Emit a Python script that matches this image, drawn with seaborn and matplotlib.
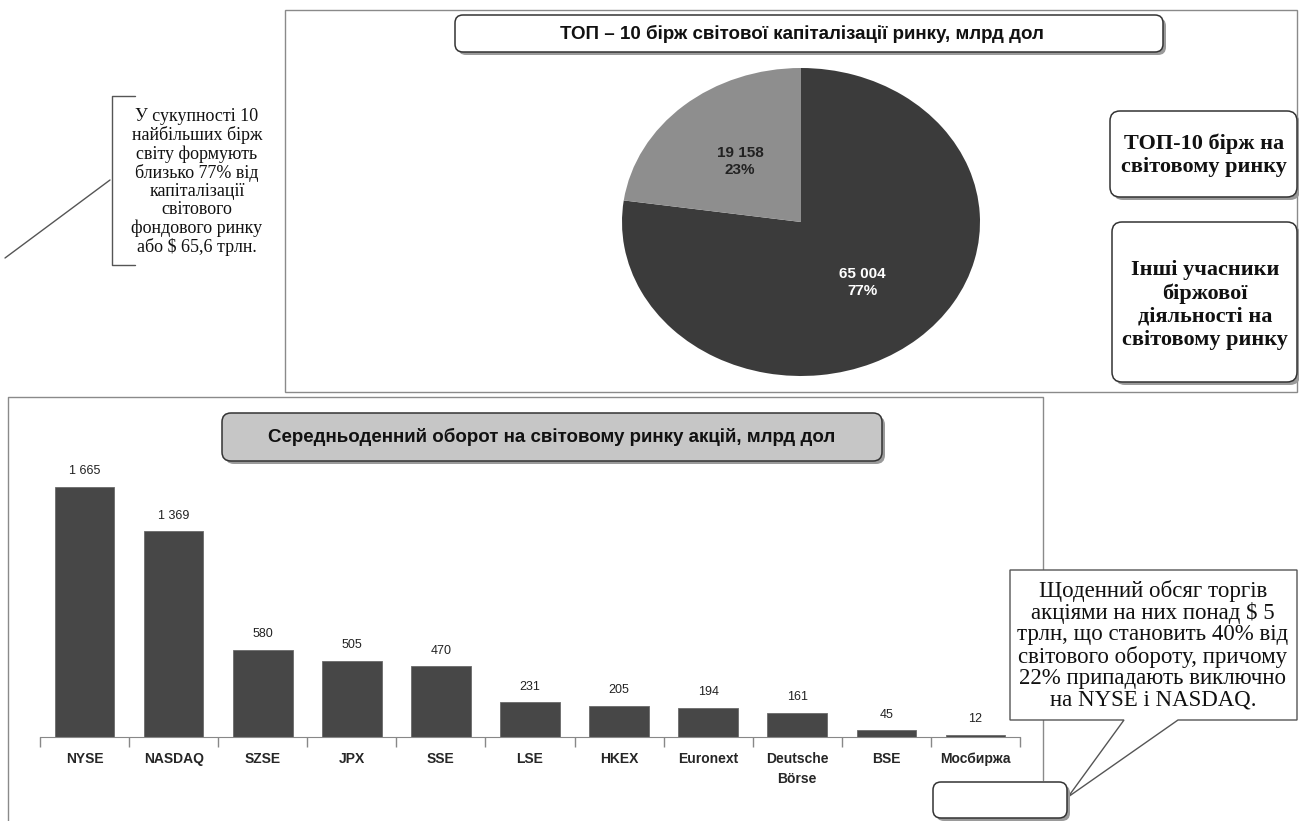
import matplotlib
matplotlib.use("Agg")
import matplotlib.pyplot as plt
import seaborn as sns
import pandas as pd
from matplotlib.patches import FancyBboxPatch, Rectangle, Polygon

# ----------------------------------------------------------------------
# Data
# ----------------------------------------------------------------------
pie_values = [65004, 19158]
pie_pcts = ["77%", "23%"]
pie_colors = ["#3b3b3b", "#8e8e8e"]

exchanges = ["NYSE", "NASDAQ", "SZSE", "JPX", "SSE", "LSE", "HKEX",
             "Euronext", "Deutsche\nBörse", "BSE", "Мосбиржа"]
turnover = [1665, 1369, 580, 505, 470, 231, 205, 194, 161, 45, 12]

pie_title = "ТОП – 10 бірж світової капіталізації ринку, млрд дол"
bar_title = "Середньоденний оборот на світовому ринку акцій, млрд дол"
legend_top = "ТОП-10 бірж на\nсвітовому ринку"
legend_other = "Інші учасники\nбіржової\nдіяльності на\nсвітовому ринку"
note_left = ("У сукупності 10\nнайбільших бірж\nсвіту формують\nблизько 77% від\n"
             "капіталізації\nсвітового\nфондового ринку\nабо $ 65,6 трлн.")
note_right = ("Щоденний обсяг торгів\nакціями на них понад $ 5\nтрлн, що становить 40% від\n"
              "світового обороту, причому\n22% припадають виключно\nна NYSE і NASDAQ.")

W, H = 1299, 821
SANS = ["Liberation Sans", "DejaVu Sans"]
SERIF = ["Liberation Serif", "DejaVu Serif"]

sns.set_style("white")
plt.rcParams["font.family"] = SANS

fig = plt.figure(figsize=(W / 100, H / 100), dpi=100)
fig.patch.set_facecolor("white")


def px_axes(x0, y0, x1, y1):
    """Axes placed by pixel box (y measured from the top)."""
    return fig.add_axes([x0 / W, 1 - y1 / H, (x1 - x0) / W, (y1 - y0) / H])


# ----------------------------------------------------------------------
# Pie chart
# ----------------------------------------------------------------------
ax_pie = px_axes(622, 68, 980, 376)
pie_labels = [f"{v:,}".replace(",", " ") + "\n" + p for v, p in zip(pie_values, pie_pcts)]
wedges, texts = ax_pie.pie(pie_values, colors=pie_colors, startangle=90,
                           counterclock=False, labels=pie_labels, labeldistance=0.52,
                           wedgeprops=dict(linewidth=0))
for t, c in zip(texts, ["white", "#222222"]):
    t.set_ha("center")
    t.set_va("center")
    t.set_color(c)
    t.set_fontweight("bold")
    t.set_fontsize(11)
    t.set_linespacing(1.3)
ax_pie.set_aspect("auto")
ax_pie.set_xlim(-1, 1)
ax_pie.set_ylim(-1, 1)

# ----------------------------------------------------------------------
# Bar chart
# ----------------------------------------------------------------------
ax_bar = px_axes(40, 440, 1020, 737)
df = pd.DataFrame({"exchange": exchanges, "turnover": turnover})
sns.barplot(data=df, x="exchange", y="turnover", color="#474747", saturation=1,
            width=0.67, ax=ax_bar, edgecolor="#6a6a6a", linewidth=0.6)
ax_bar.set_xlim(-0.5, len(exchanges) - 0.5)
ax_bar.set_ylim(0, 1665 * 297 / 250)
ax_bar.bar_label(ax_bar.containers[0],
                 labels=[f"{v:,}".replace(",", " ") for v in turnover],
                 padding=7, fontsize=9, color="#222222")
ax_bar.set_xlabel("")
ax_bar.set_ylabel("")
ax_bar.set_yticks([])
for s in ["top", "right", "left"]:
    ax_bar.spines[s].set_visible(False)
ax_bar.spines["bottom"].set_color("#888888")
ax_bar.set_xticks(range(len(exchanges)))
ax_bar.set_xticklabels(exchanges, fontweight="bold", fontsize=10, linespacing=1.5,
                       va="top")
ax_bar.set_xticks([i - 0.5 for i in range(len(exchanges) + 1)], minor=True)
ax_bar.tick_params(axis="x", which="major", length=0, pad=11)
ax_bar.tick_params(axis="x", which="minor", bottom=True, length=7, width=1,
                   color="#888888", direction="out")

# ----------------------------------------------------------------------
# Overlay: frames, boxes, notes (pixel coordinates)
# ----------------------------------------------------------------------
ov = fig.add_axes([0, 0, 1, 1], zorder=-1)
ov.set_xlim(0, W)
ov.set_ylim(H, 0)
ov.axis("off")
ov.patch.set_alpha(0)

ov2 = fig.add_axes([0, 0, 1, 1], zorder=5)
ov2.set_xlim(0, W)
ov2.set_ylim(H, 0)
ov2.axis("off")
ov2.patch.set_alpha(0)

# panel frames
ov.add_patch(Rectangle((285, 10), 1012, 382, fill=False, ec="#8a8a8a", lw=1))
ov.plot([8, 8, 1043, 1043], [821, 397, 397, 780], color="#8a8a8a", lw=1)


def rbox(ax, x0, y0, x1, y1, fc="white", r=8, shadow=True):
    if shadow:
        ax.add_patch(FancyBboxPatch((x0 + 3, y0 + 3), x1 - x0, y1 - y0,
                                    boxstyle=f"round,pad=0,rounding_size={r}",
                                    fc="#9a9a9a", ec="none"))
    ax.add_patch(FancyBboxPatch((x0, y0), x1 - x0, y1 - y0,
                                boxstyle=f"round,pad=0,rounding_size={r}",
                                fc=fc, ec="#333333", lw=1.1))


# pie title
rbox(ov2, 455, 15, 1163, 52)
ov2.text(802, 34, pie_title, ha="center", va="center", fontsize=13.5, fontweight="bold",
         color="#111111")

# legend-like boxes on the right
rbox(ov2, 1110, 111, 1297, 197, r=10)
ov2.text(1204, 155, legend_top, ha="center", va="center", fontsize=16,
         fontweight="bold", family=SERIF, linespacing=1.2, color="#111111")
rbox(ov2, 1112, 222, 1297, 382, r=10)
ov2.text(1205, 305, legend_other, ha="center", va="center", fontsize=16,
         fontweight="bold", family=SERIF, linespacing=1.2, color="#111111")

# left note with bracket and pointer line
ov2.plot([135, 112, 112, 135], [96, 96, 265, 265], color="#555555", lw=1)
ov2.plot([5, 110], [258, 180], color="#555555", lw=1)
ov2.text(197, 182, note_left, ha="center", va="center", fontsize=13,
         family=SERIF, linespacing=1.08, color="#111111")

# bar title
rbox(ov2, 222, 413, 882, 461, fc="#c6c6c6", r=9)
ov2.text(552, 437, bar_title, ha="center", va="center", fontsize=13.5,
         fontweight="bold", color="#111111")

# callout bottom right
ov2.add_patch(Polygon([(1010, 570), (1297, 570), (1297, 720), (1178, 720),
                       (1068, 797), (1124, 720), (1010, 720)],
                      closed=True, fc="white", ec="#555555", lw=1))
ov2.text(1153, 645, note_right, ha="center", va="center", fontsize=16.5,
         family=SERIF, linespacing=1.02, color="#111111")
rbox(ov2, 933, 782, 1067, 818, r=8)

fig.savefig("out.png", dpi=100, facecolor="white")
